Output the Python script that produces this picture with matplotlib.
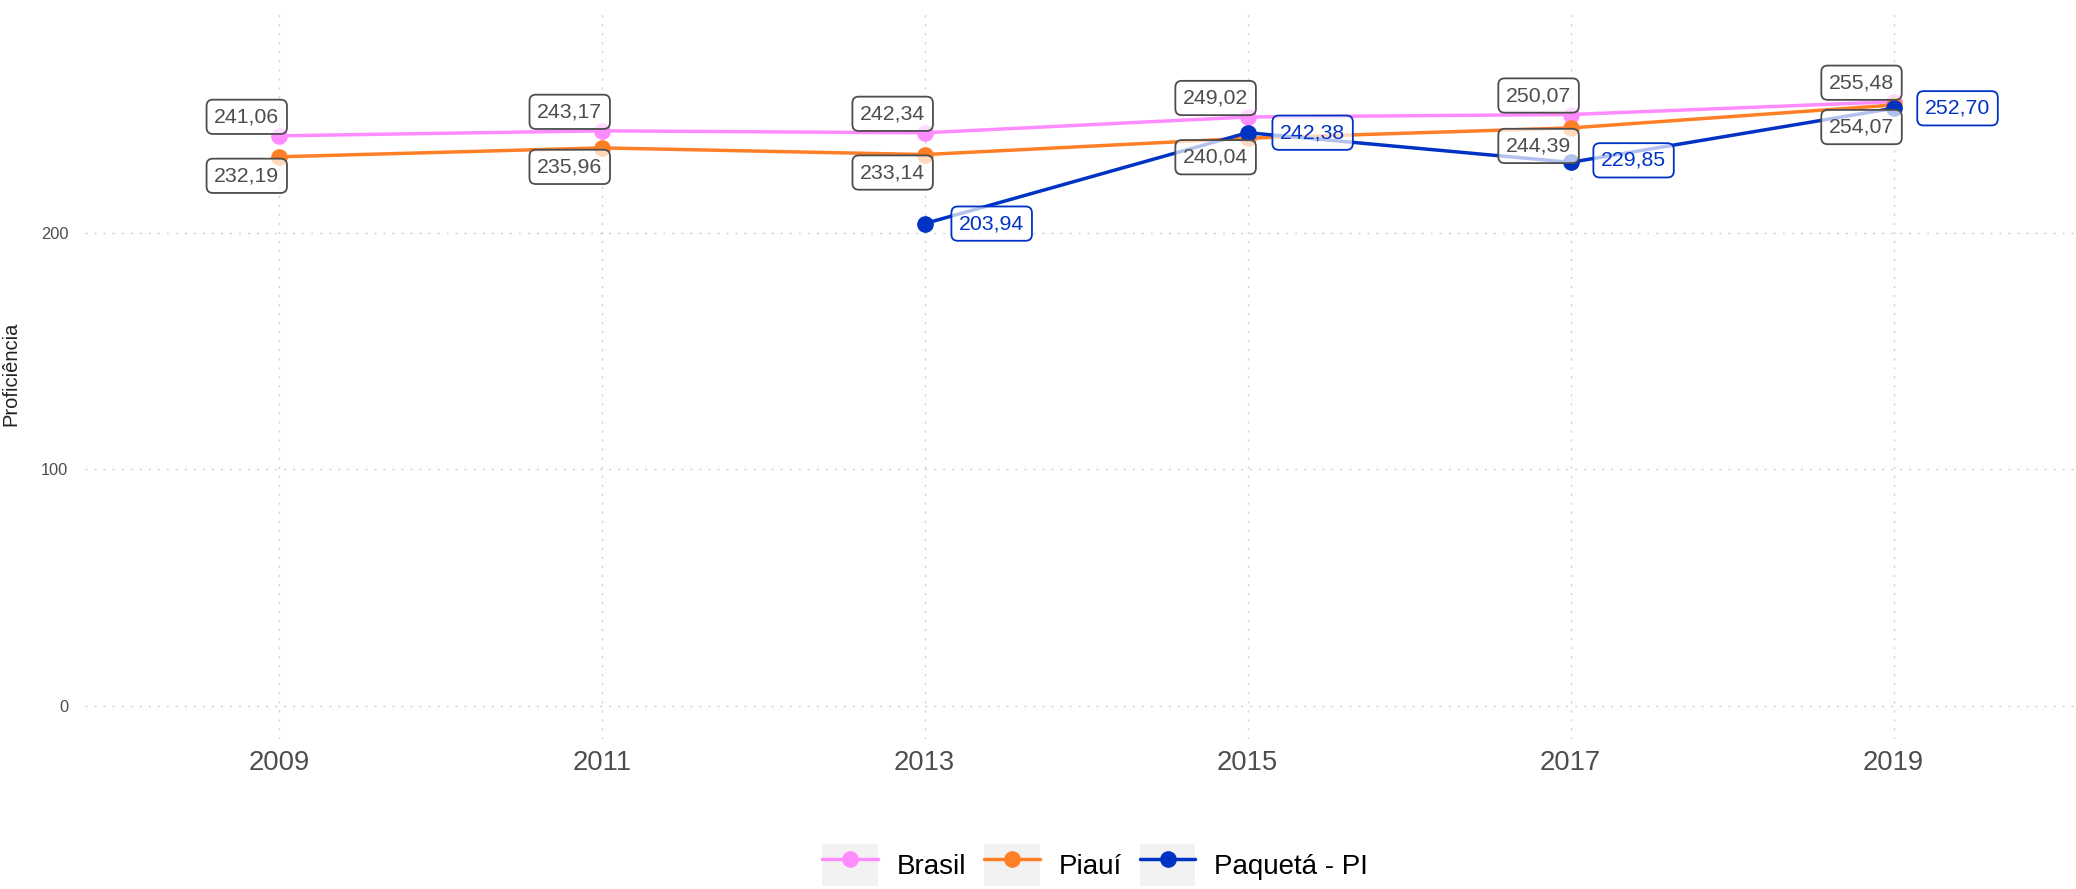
import matplotlib
matplotlib.use("Agg")
import matplotlib.pyplot as plt
from matplotlib.legend_handler import HandlerLine2D
from matplotlib.patches import Rectangle

plt.rcParams['font.family'] = ['Liberation Sans', 'DejaVu Sans']

# data
anos = [2009, 2011, 2013, 2015, 2017, 2019]
brasil = [241.06, 243.17, 242.34, 249.02, 250.07, 255.48]
piaui = [232.19, 235.96, 233.14, 240.04, 244.39, 254.07]
anos_paqueta = [2013, 2015, 2017, 2019]
paqueta = [203.94, 242.38, 229.85, 252.70]

# label offsets in pixels (ggrepel placed them)
off_brasil = [(-32, 19)] * 6
off_piaui = [(-32, -19), (-32, -19), (-32, -18), (-32, -19), (-32, -18), (-32, -22)]
off_paqueta = [(67, 0), (65, 0), (63, 2), (64, 0)]

cor_brasil = '#FF8CFF'
cor_piaui = '#FF7F27'
cor_paqueta = '#0033C4'
cinza = '#4D4D4D'


# legend key with grey background like ggplot
class KeyWithBox(HandlerLine2D):
    def create_artists(self, legend, orig_handle, xdescent, ydescent,
                       width, height, fontsize, trans):
        box = Rectangle((-xdescent, -ydescent), width, height,
                        facecolor='#F2F2F2', edgecolor='none', transform=trans)
        arts = super().create_artists(legend, orig_handle, xdescent, ydescent,
                                      width, height, fontsize, trans)
        return [box] + arts


def fmt(v):
    return f"{v:.2f}".replace('.', ',')


fig = plt.figure(figsize=(20.76, 8.89), dpi=100)
ax = fig.add_axes([85 / 2076, 1 - 739 / 889, 1 - 85 / 2076, (739 - 8) / 889])

series = [
    ('Brasil', anos, brasil, cor_brasil, off_brasil, cinza),
    ('Piauí', anos, piaui, cor_piaui, off_piaui, cinza),
    ('Paquetá - PI', anos_paqueta, paqueta, cor_paqueta, off_paqueta, cor_paqueta),
]

for nome, xs, ys, cor, offs, cor_label in series:
    ax.plot(xs, ys, color=cor, lw=2.5, marker='o', markersize=11,
            label=nome, zorder=3, solid_capstyle='round')

for nome, xs, ys, cor, offs, cor_label in series:
    for x, y, (dx, dy) in zip(xs, ys, offs):
        ax.annotate(fmt(y), xy=(x, y), xytext=(dx, dy), textcoords='offset pixels',
                    ha='center', va='center', fontsize=15.3, color=cor_label,
                    zorder=6,
                    bbox=dict(boxstyle='round,pad=0.36,rounding_size=0.3',
                              fc=(1, 1, 1, 0.7), ec=cor_label, lw=1.3))

ax.set_xlim(2007.80, 2020.13)
ax.set_ylim(-13.95, 295.1)
ax.set_xticks(anos)
ax.set_yticks([0, 100, 200])
ax.tick_params(axis='x', length=0, pad=8, labelsize=19.7, labelcolor=cinza)
ax.tick_params(axis='y', length=0, pad=12, labelsize=11.8, labelcolor=cinza)
ax.grid(True, color='#D0D0D0', lw=1.0, linestyle=(0, (1.5, 5)))
ax.set_axisbelow(True)
for s in ax.spines.values():
    s.set_visible(False)

ax.set_ylabel('Proficiência', fontsize=14.5, color='#222222')
ax.yaxis.set_label_coords(-(85 - 20) / 1991, 0.5)

handles, labels = ax.get_legend_handles_labels()
leg = fig.legend(handles, labels, loc='center', bbox_to_anchor=(0.5275, 0.027),
                 ncol=3, frameon=False, fontsize=20, handlelength=2.0,
                 handleheight=2.0, handletextpad=0.68, columnspacing=0.65,
                 borderpad=0, handler_map={plt.Line2D: KeyWithBox()})

fig.savefig('out.png', dpi=100)
